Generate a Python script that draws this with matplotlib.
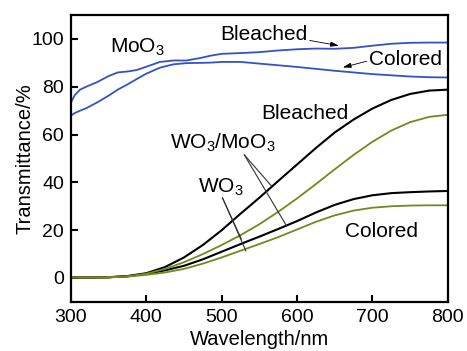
import matplotlib
matplotlib.use('Agg')
import matplotlib.pyplot as plt

plt.rcParams['font.family'] = ['Liberation Sans', 'DejaVu Sans']
plt.rcParams['mathtext.default'] = 'regular'

# MoO3 film
wl_moo3 = [300, 305, 312, 320, 335, 350, 362, 375, 387, 400, 418, 436, 453, 471, 485,
           500, 525, 550, 575, 600, 625, 650, 675, 700, 725, 750, 775, 800]
moo3_bleached = [73.5, 76.5, 78.8, 80.0, 82.0, 84.5, 86.0, 86.4, 87.0, 88.4, 90.4, 91.0, 91.0, 92.0, 93.0,
                 93.8, 94.1, 94.5, 95.2, 95.7, 96.0, 95.9, 96.3, 97.2, 98.0, 98.4, 98.5, 98.5]
moo3_colored = [68.0, 69.0, 70.0, 71.0, 73.5, 76.3, 78.8, 81.0, 83.2, 85.5, 88.0, 89.4, 89.9, 90.0, 90.1,
                90.4, 90.4, 89.7, 89.0, 88.3, 87.5, 86.7, 86.0, 85.3, 84.8, 84.3, 84.0, 83.9]

# WO3/MoO3 (black) and WO3 (green)
wl = [300, 325, 350, 375, 400, 425, 450, 475, 500, 525, 550,
      575, 600, 625, 650, 675, 700, 725, 750, 775, 800]
wm_bleached = [0.2, 0.2, 0.3, 0.8, 2.0, 4.6, 8.6, 13.8, 20.0, 26.9, 33.6,
               40.6, 47.5, 54.4, 60.9, 66.3, 70.9, 74.5, 77.0, 78.4, 78.8]
wm_colored = [0.2, 0.2, 0.3, 0.7, 1.7, 3.2, 5.1, 7.8, 11.0, 14.2, 17.3,
              20.5, 23.8, 27.4, 30.6, 33.0, 34.6, 35.5, 35.9, 36.2, 36.4]
wo3_bleached = [0.2, 0.2, 0.3, 0.7, 1.8, 3.8, 6.6, 10.0, 13.8, 17.9, 22.5,
                27.7, 33.3, 39.3, 45.5, 51.5, 57.0, 61.7, 65.2, 67.4, 68.3]
wo3_colored = [0.2, 0.2, 0.3, 0.6, 1.3, 2.3, 3.8, 6.0, 8.6, 11.4, 14.2,
               17.1, 20.3, 23.5, 26.2, 28.2, 29.4, 30.0, 30.3, 30.4, 30.4]

xticks = [300, 400, 500, 600, 700, 800]
yticks = [0, 20, 40, 60, 80, 100]

blue = '#3452c6'
green = '#6f8a1f'

fig = plt.figure(figsize=(4.67, 3.51), dpi=100)
ax = fig.add_axes([0.152, 0.140, 0.807, 0.817])

ax.plot(wl_moo3, moo3_bleached, color=blue, lw=1.3)
ax.plot(wl_moo3, moo3_colored, color=blue, lw=1.3)
ax.plot(wl, wm_bleached, color='black', lw=1.5)
ax.plot(wl, wm_colored, color='black', lw=1.5)
ax.plot(wl, wo3_bleached, color=green, lw=1.3)
ax.plot(wl, wo3_colored, color=green, lw=1.3)

ax.set_xlim(300, 800)
ax.set_ylim(-10, 110)
ax.set_xticks(xticks)
ax.set_yticks(yticks)
ax.tick_params(direction='in', length=5, width=1.5, labelsize=14, pad=5,
               top=False, right=False)
for s in ax.spines.values():
    s.set_linewidth(1.6)

ax.set_xlabel('Wavelength/nm', fontsize=14.5, labelpad=3)
ax.set_ylabel('Transmittance/%', fontsize=14.5, labelpad=-2)

fs = 15
ax.text(352, 96.5, 'MoO$_3$', fontsize=fs, ha='left', va='center')
ax.text(498, 101.7, 'Bleached', fontsize=fs, ha='left', va='center')
ax.annotate('', xy=(659, 97.0), xytext=(613, 99.6),
            arrowprops=dict(arrowstyle='-|>,head_length=0.5,head_width=0.15', color='black', lw=0.6))
ax.text(696, 91.3, 'Colored', fontsize=fs, ha='left', va='center')
ax.annotate('', xy=(657, 87.8), xytext=(696, 91.0),
            arrowprops=dict(arrowstyle='-|>,head_length=0.5,head_width=0.15', color='black', lw=0.6))

ax.text(553, 68.75, 'Bleached', fontsize=fs, ha='left', va='center')
ax.text(663, 19.6, 'Colored', fontsize=fs, ha='left', va='center')

ax.text(431, 56.5, 'WO$_3$/MoO$_3$', fontsize=fs, ha='left', va='center')
for end in [(566, 38.5), (586, 21.8)]:
    ax.plot([530, end[0]], [51.5, end[1]], color='#333333', lw=0.8)

ax.text(468, 38.0, 'WO$_3$', fontsize=fs, ha='left', va='center')
for end in [(526, 16.3), (532, 11.4)]:
    ax.plot([501, end[0]], [33.5, end[1]], color='#333333', lw=0.8)

fig.savefig('out.png', dpi=100)
